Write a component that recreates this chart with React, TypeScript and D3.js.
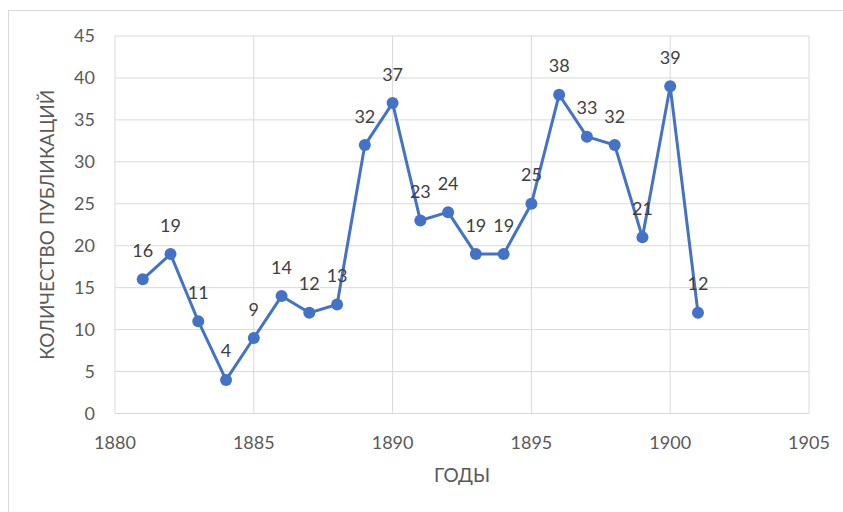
import React from 'react';
import * as d3 from 'd3';

const years = [1881, 1882, 1883, 1884, 1885, 1886, 1887, 1888, 1889, 1890, 1891, 1892, 1893, 1894, 1895, 1896, 1897, 1898, 1899, 1900, 1901];
const counts = [16, 19, 11, 4, 9, 14, 12, 13, 32, 37, 23, 24, 19, 19, 25, 38, 33, 32, 21, 39, 12];
const xTicks = [1880, 1885, 1890, 1895, 1900, 1905];
const yTicks = [0, 5, 10, 15, 20, 25, 30, 35, 40, 45];
const xTitle = 'ГОДЫ';
const yTitle = 'КОЛИЧЕСТВО ПУБЛИКАЦИЙ';

const App = () => {
    const width = 843;
    const height = 512;
    const margin = { top: 36, right: 34, bottom: 98.5, left: 115 };
    const font = 'Lato, "Open Sans", sans-serif';

    const x = d3.scaleLinear().domain([1880, 1905]).range([margin.left, width - margin.right]);
    const y = d3.scaleLinear().domain([0, 45]).range([height - margin.bottom, margin.top]);

    const data = years.map((yr, i) => ({ yr, v: counts[i] }));
    const line = d3.line<{ yr: number; v: number }>()
        .x(d => x(d.yr))
        .y(d => y(d.v));

    return (
        <svg width={width} height={height} style={{ position: 'absolute', left: 0, top: 0 }}>
            <rect x={0} y={0} width={width} height={height} fill="#ffffff" />
            <rect x={8.5} y={10.5} width={width} height={height} fill="none" stroke="#d9d9d9" strokeWidth={1} />

            {yTicks.map(t => (
                <line key={`gy-${t}`} x1={x(1880)} x2={x(1905)} y1={y(t)} y2={y(t)} stroke="#d9d9d9" strokeWidth={1} />
            ))}
            {xTicks.map(t => (
                <line key={`gx-${t}`} x1={x(t)} x2={x(t)} y1={y(0)} y2={y(45)} stroke="#d9d9d9" strokeWidth={1} />
            ))}

            {yTicks.map(t => (
                <text key={`ty-${t}`} x={x(1880) - 20} y={y(t)} dy="0.35em" textAnchor="end"
                    fontFamily={font} fontSize={18} fill="#595959">{t}</text>
            ))}
            {xTicks.map(t => (
                <text key={`tx-${t}`} x={x(t)} y={y(0) + 35} textAnchor="middle"
                    fontFamily={font} fontSize={18} fill="#595959">{t}</text>
            ))}

            <path d={line(data) || ''} fill="none" stroke="#4472C4" strokeWidth={3} strokeLinejoin="round" />
            {data.map((d, i) => (
                <circle key={`pt-${i}`} cx={x(d.yr)} cy={y(d.v)} r={6} fill="#4472C4" />
            ))}
            {data.map((d, i) => (
                <text key={`lb-${i}`} x={x(d.yr)} y={y(d.v) - 22.5} textAnchor="middle"
                    fontFamily={font} fontSize={18} fill="#404040">{d.v}</text>
            ))}

            <text x={(x(1880) + x(1905)) / 2} y={482} textAnchor="middle"
                fontFamily={font} fontSize={19} fill="#595959">{xTitle}</text>
            <text transform={`translate(54, ${(y(0) + y(45)) / 2}) rotate(-90)`} textAnchor="middle"
                fontFamily={font} fontSize={19} fill="#595959">{yTitle}</text>
        </svg>
    );
};

export default App;
